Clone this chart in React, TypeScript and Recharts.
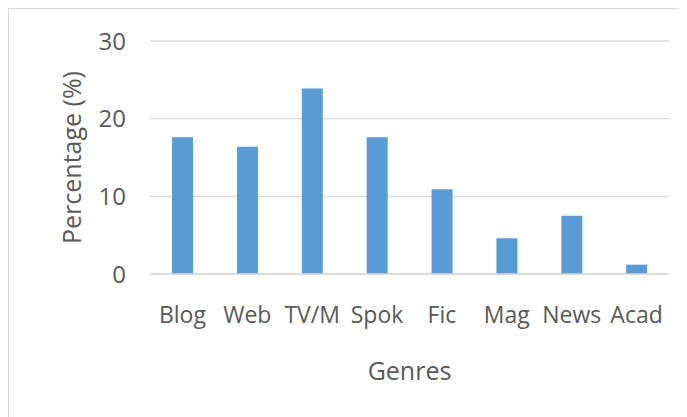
import { BarChart, Bar, XAxis, YAxis, CartesianGrid } from "recharts";

const GENRES = ["Blog", "Web", "TV/M", "Spok", "Fic", "Mag", "News", "Acad"];
const PERCENTAGES = [17.6, 16.4, 23.9, 17.6, 10.9, 4.6, 7.5, 1.2];
const Y_TICKS = [0, 10, 20, 30];

const BAR_COLOR = "#5b9bd5";
const GRID_COLOR = "#d9d9d9";
const TEXT_COLOR = "#595959";
const FONT = "'Open Sans', 'Noto Sans', sans-serif";

export default function App() {
    const data = GENRES.map((genre, i) => ({ genre, value: PERCENTAGES[i] }));

    return (
        <div
            style={{
                width: 679,
                height: 409,
                borderLeft: `1px solid ${GRID_COLOR}`,
                borderTop: `1px solid ${GRID_COLOR}`,
                fontFamily: FONT,
                overflow: "hidden",
            }}
        >
            <BarChart
                width={678}
                height={408}
                data={data}
                margin={{ top: 32, right: 18, bottom: 0, left: 0 }}
                barCategoryGap="34%"
            >
                <CartesianGrid vertical={false} stroke={GRID_COLOR} strokeWidth={1.3} />
                <XAxis
                    dataKey="genre"
                    height={143}
                    axisLine={{ stroke: GRID_COLOR, strokeWidth: 1.3 }}
                    tickLine={false}
                    tickMargin={27}
                    interval={0}
                    tick={{ fill: TEXT_COLOR, fontSize: 23, fontFamily: FONT }}
                    label={{
                        value: "Genres",
                        position: "insideBottom",
                        offset: 37,
                        fill: TEXT_COLOR,
                        fontSize: 25,
                        fontFamily: FONT,
                    }}
                />
                <YAxis
                    width={141}
                    domain={[0, 30]}
                    ticks={Y_TICKS}
                    axisLine={false}
                    tickLine={false}
                    tickMargin={18}
                    tick={{ fill: TEXT_COLOR, fontSize: 24, fontFamily: FONT }}
                    label={{
                        value: "Percentage (%)",
                        angle: -90,
                        position: "center",
                        dx: -7,
                        fill: TEXT_COLOR,
                        fontSize: 25,
                        fontFamily: FONT,
                    }}
                />
                <Bar dataKey="value" fill={BAR_COLOR} isAnimationActive={false} />
            </BarChart>
        </div>
    );
}
